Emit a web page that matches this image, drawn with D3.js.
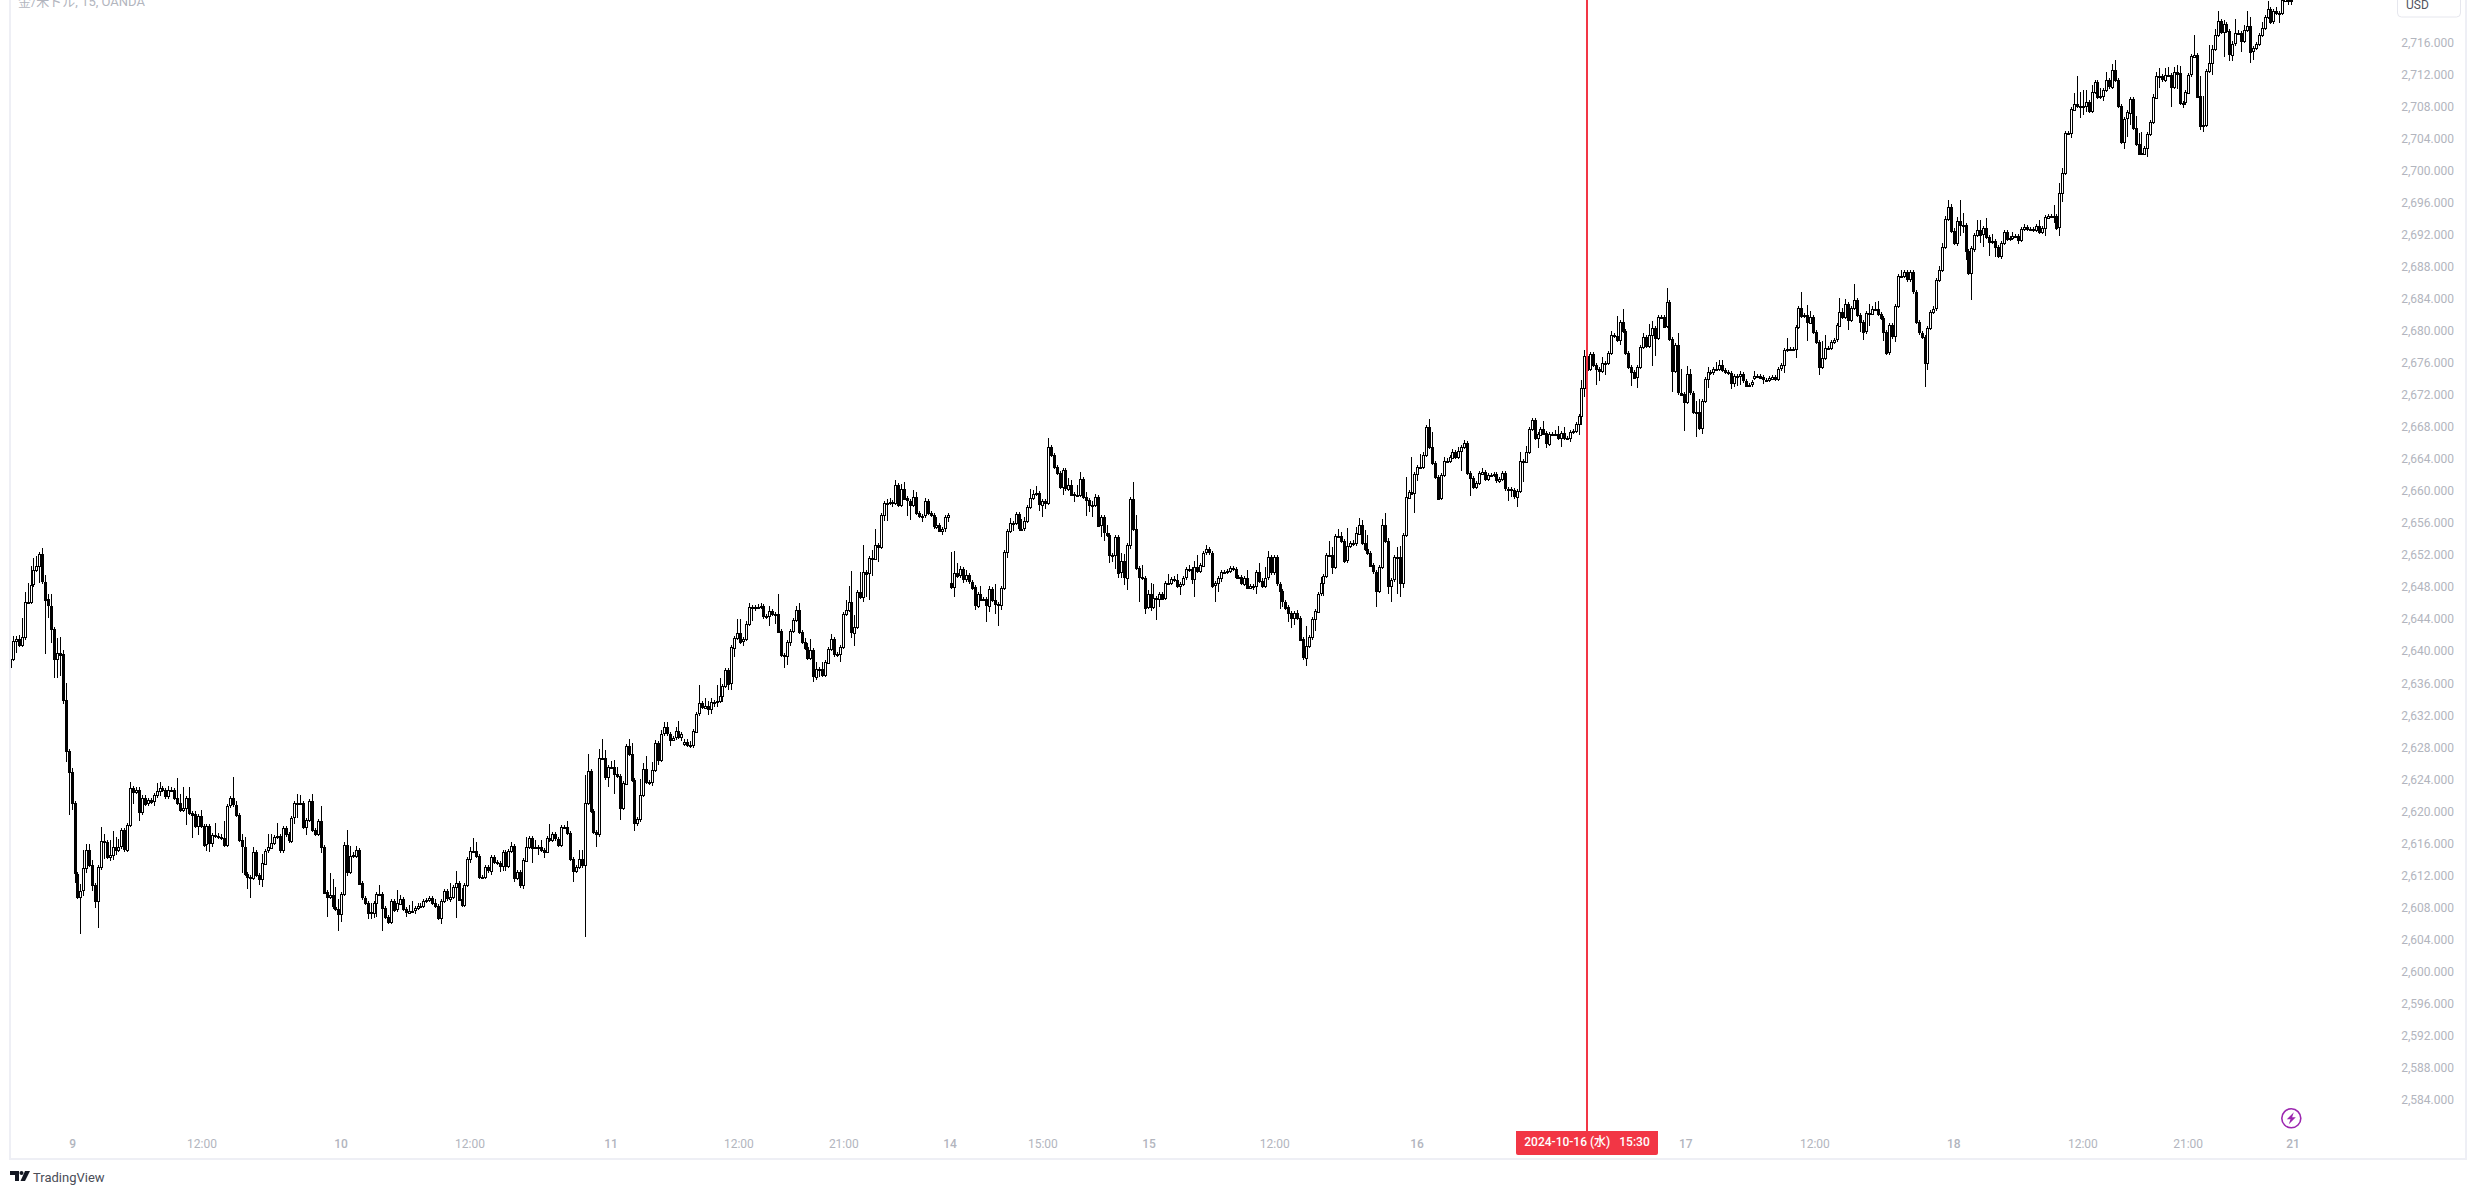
<!DOCTYPE html>
<html>
<head>
<meta charset="utf-8">
<title>XAU/USD 15m</title>
<script src="https://cdn.jsdelivr.net/npm/d3@7"></script>
<style>
html,body{margin:0;padding:0;background:#fff;overflow:hidden}
svg{display:block}
text{font-family:Roboto,"Noto Sans CJK JP",sans-serif}
</style>
</head>
<body>
<div id="chart"></div>
<script>
// Opening price of the first bar in each uninterrupted trading run.
const sessionOpens = [2638.0, 2628.5, 2648.5, 2674.2];

// 15-minute closes, Oct 8 evening to Oct 11 close.
const closesA = [
2639,2641.3,2641.5,2640.8,2641.8,2646.2,2646.2,2648.3,2650.1,2650.6,
2652.1,2648.7,2646.5,2645.7,2642.8,2639.1,2639.8,2639.6,2633.9,2627.5,
2624.9,2621,2612.2,2609.3,2610.1,2612.9,2615.2,2613.3,2610.8,2608.8,
2613,2616.3,2616.2,2614.3,2614.6,2615.6,2615.2,2615.6,2617.6,2615.2,
2618.3,2622.9,2622.4,2622.7,2619.9,2621.7,2621,2621.4,2621.2,2622,
2622.5,2622.9,2622.6,2621.8,2622.6,2622.6,2621.6,2621,2620.1,2620.4,
2621.7,2619.8,2619.6,2618.1,2619.4,2618.2,2615.8,2618.1,2616,2617,
2616.9,2616.8,2616.7,2615.8,2620.7,2621.6,2620.8,2619.5,2616.4,2615.6,
2612.2,2611.8,2611.7,2614.9,2612,2611.5,2613.5,2615.1,2615.5,2616.1,
2616.8,2616.9,2615.1,2617.9,2617.1,2616.3,2619.2,2621,2621,2621,
2618,2618.9,2621.3,2617.7,2617.2,2618.8,2615.6,2609.9,2609.3,2609.5,
2608.1,2607.8,2607.2,2609.7,2615.8,2612.4,2614.4,2614.5,2615.2,2611,
2609.2,2608.6,2607.4,2607.4,2608.6,2609.7,2609.7,2607.9,2606.8,2606.2,
2608.8,2607.7,2608.5,2609.1,2607.8,2607.4,2607.6,2607.6,2607.9,2608.2,
2608.2,2608.8,2608.9,2609.2,2608.6,2608.2,2606.7,2608.8,2610,2609.1,
2609.3,2610.6,2611.1,2609,2608.3,2610.8,2614,2615,2615,2614.4,
2611.8,2611.8,2613,2612.6,2614.3,2613.7,2613.6,2613.2,2614.9,2613.2,
2615.1,2615.7,2611.7,2612.4,2610.8,2613.9,2615.6,2616.7,2615.5,2615.6,
2615.6,2615.2,2615,2616.7,2616.4,2617.1,2616.6,2615.8,2618,2618,
2617.3,2614,2612.5,2613,2614,2613.2,2621,2625,2620,2617.4,
2617.1,2626.6,2626.6,2624.2,2625.5,2625.5,2624.6,2624.4,2620.4,2623.5,
2628.2,2627.2,2623.9,2618.5,2619,2622,2625.3,2623.7,2623.6,2625.1,
2628.5,2626.4,2629.7,2630.5,2629.7,2629,2629.2,2630,2629.3,2629.7];
const upperWicksA = [
.1,.6,.4,.5,2.4,1.2,2.3,2.3,1.5,1.3,
.1,.8,.8,.6,1.5,.1,1.9,2,.6,2.1,
.1,.5,.1,.1,.8,2.3,.7,.7,.6,.2,
.2,1.7,.9,.2,1.8,1.9,1.2,1,.2,.3,
.2,.7,.2,.3,.3,.3,.3,.2,.3,.2,
1,.7,.3,.2,.6,.4,.2,2.6,1.2,2.6,
.2,1.3,.2,.4,.2,.8,.2,.3,.2,.2,
1.5,.4,.3,2.1,.1,.3,2.7,.5,.1,.8,
1.2,.2,.1,.7,.1,.2,1.2,.2,1.7,1,
.2,1.6,.1,.1,.3,.1,.1,.3,1.2,1,
.1,.1,.1,.9,.1,.1,1.8,.1,.1,2.8,
2,2.5,1.2,.1,.4,1.9,1.3,.4,.5,.1,
.1,.1,.1,1.1,.2,.1,1.1,.1,.1,.1,
.1,.1,1.7,.4,.2,.1,.7,1.2,.1,.3,
.3,.2,.3,.1,.1,.4,.1,.1,.1,.1,
1.7,.1,1.4,.1,1.4,.1,.1,.5,1.7,1.2,
.1,.1,.3,.1,.1,.3,.1,.1,.1,.3,
.1,.5,.1,.1,.1,.3,1.2,.1,.1,.8,
.1,.8,.1,.1,1.7,.1,.1,.1,.2,.3,
.8,.1,.1,.1,1.2,1.2,3.5,2.2,.1,.1,
.1,1.2,2.4,1,.1,.8,.9,.9,.3,.1,
.2,.8,1.3,.1,.1,2,.7,1.6,.1,1,
.4,.1,.5,.6,.6,.1,.1,.5,1.3,.1];
const lowerWicksA = [
.6,.2,1.5,.3,.2,.4,.1,.1,.2,.1,
2.1,.2,6.8,1.5,1.8,2.4,2.5,2.7,.5,1.4,
5.4,.8,1.2,.3,4.6,.7,.6,.3,.8,.9,
3.4,.3,2.1,.3,.5,.7,.7,.3,.3,.3,
.2,.2,1.5,.2,1.1,.4,.3,.4,.2,.5,
.3,.6,.2,.2,.2,.2,.2,.2,.1,.1,
2.1,.2,2.9,.2,1.1,.2,.2,.8,1.1,.5,
.2,.2,.2,.3,.2,.2,.1,.1,.1,3.3,
.1,1.5,2.5,.1,.1,.7,1,.2,.2,.2,
.2,.2,.2,.3,.1,.1,.3,.8,1.9,.2,
.1,1,.1,.1,.1,.1,.8,.1,2.5,.1,
.1,.1,2.1,1,.1,.5,.1,.2,.3,.1,
.1,.1,.9,.9,.7,1.8,.1,2.8,.1,.1,
.1,.1,.1,.1,.1,.6,.1,.1,.4,.1,
.1,.1,.2,.1,.1,.1,.1,.8,.1,.1,
.4,.1,3.9,.1,.1,.3,.1,.5,.1,.1,
.1,.2,.3,.1,.5,.1,.1,.8,.7,.6,
.1,.1,.5,.1,.4,.5,.1,.1,2,.1,
1,.1,.8,.1,.1,.1,.1,.1,.1,.1,
.1,.1,1.3,.1,.1,.1,8.9,.1,.1,.1,
1.5,.1,.1,.1,1.2,.2,2.4,.1,1.5,.2,
.1,.1,.1,1,.3,.3,.1,.1,.3,.4,
.2,.6,.1,.1,.1,.8,.1,.1,.1,.5];

// Closes, run starting on the thin gap before the Oct 11 rally.
const closesB = [
2628.7,2628.3,2628.2,2630,2632.2,2633.5,2633,2633.2,2632.8,
2633.7,2633.7,2633.8,2634.4,2635.7,2637.7,2636,2640.5,2641.7,2642.3,
2641.2,2641.5,2643.4,2645.5,2645.5,2645.5,2645.5,2645.6,2644.4,2644.4,
2645,2644.6,2644.7,2642.5,2639.5,2639.4,2641.1,2642.5,2643.9,2645.2,
2642.4,2641.2,2640.5,2639.1,2640.1,2636.8,2637.8,2637.8,2637,2638.6,
2640.3,2641.5,2639.6,2639.6,2640.5,2644.6,2645.1,2646.1,2642.3,2643,
2647.4,2646.8,2649.9,2649.7,2651.6,2651.6,2653.3,2653,2657,2658.5,
2658.5,2658.6,2658.5,2660.8,2658.3,2660.3,2659.1,2658.8,2658.3,2659.3,
2657.3,2656.9,2656.9,2658.7,2657.2,2657,2655.6,2655.8,2655.1,2655.3,
2656.7,2657];
const upperWicksB = [
.3,.3,.5,.1,.1,2.3,.1,.9,.6,
.5,.1,2,2.2,.2,.2,.1,.1,.2,1.7,
1.7,.1,.4,.5,.1,.3,.4,.4,.1,.2,
.6,.2,.1,2.4,.1,.1,.1,.1,.1,.4,
.8,.1,.4,.5,1.4,.1,.9,.2,.9,.1,
.1,.7,.1,.1,.1,.1,1.3,2,3.9,1.5,
.3,2.5,3.3,.1,.1,1,2,.1,.1,.1,
.5,.5,.1,.6,.2,.6,.8,.1,.1,.8,
.6,.1,.1,.4,.1,.1,.1,1,.1,.1,
.2,.3];
const lowerWicksB = [
.4,.1,.1,.1,.1,.1,.1,.1,.8,
.6,.7,.7,.1,.8,.1,.8,.9,1.2,.1,
.1,.6,.1,.1,1.7,.5,.1,.1,.4,.4,
1.3,.1,1.2,.1,.1,1.5,1.1,.5,.1,.1,
.1,.1,.3,.1,.1,.6,.4,1,.1,.1,
.1,.1,.3,.3,.9,.1,.1,.1,.7,1.7,
.1,.1,.7,2.9,3.3,2.2,.1,1.9,.1,.7,
2.2,.1,.5,.1,.1,.1,.1,1.9,1.9,.1,
.1,.1,.8,.1,.1,.1,.3,.4,.1,.6,
.4,.6];

// Closes from the Oct 14 open to the quiet stretch on Oct 16-17.
const closesC = [
2648,2649.8,2649.4,2650.2,2649,2649.5,2648.7,2648,2645.7,2647.2,
2646.5,2646.5,2645.7,2647.8,2646.4,2645.9,2645.8,2647.9,2652.4,2655,
2656,2656,2657.1,2655.3,2655.3,2656.2,2658,2659.1,2659.6,2659.7,
2658.3,2658.8,2658.5,2665.5,2664.5,2663,2662.3,2660.5,2662.6,2660.3,
2660.8,2659.6,2659.5,2659.5,2661.5,2659.3,2658.9,2658.3,2658.3,2659.3,
2655.7,2656.7,2654.8,2654.5,2652,2652,2654.3,2649.8,2651.2,2649.2,
2653.3,2659,2655.3,2650.4,2649.3,2649.2,2645.5,2647.1,2645.5,2646.6,
2646.6,2647.2,2646.6,2648.5,2648.5,2649,2648.9,2648.2,2648.4,2649.2,
2650.2,2650.2,2649,2650.5,2650,2650.7,2652.3,2652.7,2652.3,2648.2,
2648.5,2649.1,2649.9,2649.9,2650,2650.4,2650.3,2649.3,2649.3,2648.5,
2649.2,2648,2648.2,2648.2,2649.9,2648.8,2648.2,2649.2,2651.7,2649.8,
2651.7,2648.4,2647.5,2646.2,2645.5,2644.8,2644.2,2644.8,2644.2,2641.5,
2639.2,2640.7,2641.8,2644,2645,2647.2,2648.5,2649.4,2652,2652,
2650.5,2654.4,2654.4,2653.8,2651.3,2653.1,2653.5,2653.4,2654.7,2655.8,
2653.5,2652.8,2652.3,2650.7,2649.9,2647.5,2650.5,2655.7,2653.7,2648.1,
2648.9,2651.7,2651.7,2648.5,2654.5,2659.2,2659.9,2659.7,2662.1,2663,
2663,2664.5,2668,2665.5,2663.5,2661.8,2659.1,2662,2663.7,2663.7,
2664.2,2664.9,2664.3,2665,2665.5,2666,2662.2,2661.6,2660.5,2661,
2662.2,2662.4,2661.5,2662,2662,2662.1,2661.3,2661.5,2662.2,2660.3,
2660.2,2660.1,2659.3,2660,2663.7,2663.7,2664.9,2667.8,2668.9,2666.6,
2667.1,2667.8,2667.2,2665.9,2667.1,2667.1,2667.1,2666.6,2667.2,2666.6,
2666.6,2667.4,2667.5,2668.4,2669.4,2672.9,2676.9,2675.2,2677.1,2675.7,
2675.2,2675,2676,2676,2677.3,2679.5,2679.4,2678.9,2681.1,2680,
2677.2,2675.5,2674.9,2674.2,2675.5,2678,2679.2,2678.1,2679.5,2680.4,
2679.1,2681.7,2681.8,2680.6,2683.6,2679,2675,2678.2,2672.3,2672.1,
2671.1,2674.6,2672.3,2669.9,2669.9,2667.9,2671.3,2674,2674.9,2674.8,
2675.2,2675.2,2675.7,2675.1,2674.9,2674.8,2673.5,2674.4,2674.4,2674.6,
2673.8,2673.2,2673.3,2673.6];
const upperWicksC = [
3.9,2.7,1.2,.4,.3,.6,.3,.1,.1,.1,
1,.1,.1,.4,.1,2,.1,.1,.1,.3,
.6,.1,.1,.2,1.2,.5,.1,1.1,.5,.9,
.3,.1,.1,1.1,.1,.2,.1,.1,.1,.1,
.8,.6,.1,1.3,.9,.2,.6,.1,.5,.3,
.1,.1,.1,.9,.1,.3,.2,.1,1,.9,
.1,.1,2.1,1.7,.1,1.5,.1,.5,1.4,1.8,
.1,.2,.1,.3,1.1,.1,.4,.8,.1,.1,
.1,.6,.1,.8,1.5,.1,.1,.5,.1,.1,
.1,.1,.1,.1,.2,.2,.1,.1,.2,.1,
.1,.9,.2,.1,.1,1.1,.4,1.3,.8,.1,
.1,.1,.1,.1,.1,.1,.1,.1,.3,.1,
.1,2.4,.1,.1,.2,.1,.8,.3,.1,1.8,
1,.1,.9,.5,.1,2.3,.2,.4,.8,.8,
.6,1.6,1.7,.1,.1,.1,.2,.8,1.6,.4,
.1,.1,1.3,1.4,.1,2.6,.1,4.4,.1,.1,
1.6,.4,.1,1,1.9,.1,.1,.1,.5,.4,
.1,.4,.1,.5,.2,.4,.1,.2,.1,.1,
.1,.5,.1,.1,.2,.1,.1,.1,.2,.1,
.1,.1,.1,.1,1.2,.1,.7,.1,.1,.1,
.1,.1,.9,.1,.1,.3,.5,1,.1,.8,
.1,.2,.1,.1,.1,1,.7,.1,.3,.1,
.1,.1,.7,.1,.1,.5,.1,2.5,.1,1.6,
.1,.1,.1,.1,.1,.1,.5,.1,1.4,.9,
.1,.2,.1,.1,1.7,.1,.1,.1,1.5,3,
.1,1,.7,.1,1.3,1.6,.1,.1,.6,.1,
.1,.9,.7,.7,.1,.1,.1,.1,.1,.4,
.1,.1,.1,.1];
const lowerWicksC = [
.1,1.2,.1,.1,.5,.3,.1,.3,.6,.1,
.1,.1,2.1,.8,.1,1.3,2.6,.6,.1,.8,
.1,1,.1,.1,.1,.1,.1,.1,.1,.1,
.8,1.5,.8,.1,.1,.1,.1,.1,1,.1,
.1,.1,.9,.1,.1,.1,2,.9,1.5,.1,
.1,1.4,1.1,.1,1,.9,1.7,.6,.7,.9,
1.6,.6,.1,.1,3.1,.1,.8,.2,.5,.1,
2.7,1.1,.1,.1,.1,.1,.1,.1,1.2,.1,
.1,.1,.6,2.2,.1,.1,.1,.1,.1,.1,
2.1,1.1,.5,.1,.1,.1,.1,.1,.3,.1,
.3,.1,.2,.5,1,.1,.3,.1,.1,.1,
.1,.1,2.2,.7,.3,1.2,1.3,.9,.1,.1,
.1,1.1,.1,.4,1.5,.1,.1,1.6,.1,.1,
.8,.1,.1,.1,.3,.1,.1,.1,.1,.1,
.1,.1,.1,.1,.1,2,.1,.1,.1,.9,
2,.1,4.5,1.7,.6,.1,.1,.1,2.5,.9,
.1,.1,.1,.1,.1,.1,.1,.1,.1,.1,
.1,.1,.1,.1,2.5,.1,.1,2.2,.1,.2,
.1,.1,.1,.1,.1,.1,.1,.1,.1,.1,
1.4,.8,.1,1.3,.1,2.6,.1,.1,.1,.1,
1.2,.1,.1,.5,.1,.1,.1,.1,1.1,.1,
.1,.5,.1,.1,1.4,1.1,1.1,.1,.1,.1,
2,1.2,.1,1.5,.1,.1,.1,.1,.7,.1,
.1,.1,1.8,.1,1.3,.1,.1,.1,.1,3.9,
2.2,.1,.1,.1,.1,.1,2.6,.1,.1,.1,
3.6,.1,.1,.1,3.2,.1,.8,.1,1.1,.1,
.1,.1,.1,.1,.1,.1,.8,.5,1.3,1.2,
.1,.2,.1,.1];

// Closes through the Oct 17-18 rally to the end of the chart.
const closesD = [
2674.4,2674.4,2674.2,2673.9,2673.9,2674.1,2674.3,2674,2675.3,2675.7,
2677.6,2677.7,2677.7,2677.7,2680.5,2682.9,2681.9,2682,2681.1,2681.8,
2679.9,2678.6,2675.5,2676.6,2677.9,2677.9,2678.6,2678.9,2680.7,2682.4,
2681.8,2683.4,2681.4,2682.9,2683.9,2682,2681.1,2679.9,2682.2,2682.2,
2682.8,2682.7,2682.1,2681.6,2679.9,2677.3,2680.7,2679.3,2683.1,2686.8,
2686.8,2687.3,2686.4,2687.3,2684.9,2681.1,2679.8,2679.3,2676,2680.4,
2682.4,2682.8,2686.3,2687.6,2690.5,2694,2695.5,2692.5,2691,2693.7,
2693.2,2693.2,2690,2687.2,2690.3,2692,2692.6,2692,2692.8,2691.7,
2691.1,2691.2,2690.5,2689.4,2691,2692.4,2691.5,2691.6,2691.8,2691.8,
2691.3,2692.7,2693,2692.7,2692.7,2692.6,2693.1,2692.3,2692.8,2694.2,
2694.4,2694.4,2694.4,2692.9,2697.2,2699.7,2704.7,2704.7,2707.7,2708.4,
2708.1,2708.1,2708.1,2708.6,2707.5,2709.9,2711.1,2709.2,2709.3,2710.1,
2711.3,2710.5,2712.6,2711.3,2708.1,2703.6,2706.5,2707.3,2709,2705.4,
2703.4,2702.2,2702.2,2702.9,2704.6,2706.1,2709.2,2711.9,2711.8,2711.4,
2712,2712,2710.5,2712.4,2712.2,2708.5,2708.5,2709.8,2712,2714.3,
2714.5,2709.3,2705.6,2705.7,2712.5,2713.5,2715.2,2716.9,2718.7,2717.3,
2718.3,2717.4,2714.5,2715.9,2717.2,2717.2,2716.2,2717.6,2718.1,2714.9,
2715.3,2715.8,2716.9,2717.8,2719.2,2720.2,2718.6,2719.9,2719.7,2719.7,
2721.3,2721.5,2721.2,2721.3];
const upperWicksD = [
.6,.1,.1,.1,.1,.1,.1,.1,.1,.1,
.1,1.4,.1,.1,.1,.1,1.9,.1,1.2,.7,
.1,.1,.1,2.2,1.6,.1,.1,.1,.3,1.7,
.5,.6,.1,.1,1.9,.1,.1,.1,.1,1.2,
.1,.8,1,.1,.1,.1,.1,.1,.1,.1,
.8,.1,.1,.1,.1,.1,.1,.1,.1,.1,
.1,.1,.1,.5,.5,.3,.8,.3,.3,.5,
2.6,1.5,.1,.1,.1,.1,1.2,1.2,.1,1.3,
.3,.9,.1,.1,.1,.1,.1,.1,.5,.1,
.1,.1,.4,.1,.1,.1,.2,.8,.1,.1,
.1,.1,1.3,.1,1.3,.7,.3,.1,.1,1.3,
3.4,1.7,2,1.5,.1,.8,.1,.1,1,.1,
1,.2,.8,1.2,.1,.1,.1,.1,.1,.1,
1.5,1.3,2.7,.1,.1,.1,.4,.5,1,.1,
.9,1,.1,.6,.8,.9,.1,.1,.2,.1,
2.5,.1,2.5,3.7,.1,2.2,.5,.8,1.3,.3,
.5,.1,.1,.1,1.7,.4,.1,.6,1.9,1.1,
.1,.1,.1,.8,.1,1,.2,.3,.5,.1,
.1,.1,.1,.1];
const lowerWicksD = [
.3,.1,.1,.5,.1,.1,.1,.1,.1,.1,
.9,.1,.1,.1,1.1,.1,.1,.1,2.3,.1,
.1,.1,1,.1,.1,.1,.1,.1,.1,.1,
.1,.1,1.3,.1,.1,.1,1.2,1,.1,1.6,
.1,.1,.1,.1,1.2,.1,.1,.2,.7,.1,
.1,.1,.1,.1,.1,.1,.1,.1,3,.9,
.1,.1,.1,.1,.1,.1,.1,.1,.1,.4,
1.4,1,1.2,.1,3.3,.5,.1,1,1.5,.1,
1.7,.1,1.3,.1,.4,.1,.1,.1,.1,.1,
.5,.1,.1,.1,.1,.1,.1,.1,.1,.9,
.1,.1,.9,.1,1,1.1,.1,.1,.6,.1,
.1,1.5,1.1,.8,.1,.1,.1,.1,.1,.6,
.1,.1,.1,.1,.1,.1,.9,2.3,1.6,.1,
.1,.1,.1,.1,1.2,.1,.1,.1,1.5,.1,
.1,.1,2.5,.1,2,.1,.6,.1,.1,.1,
.1,.1,.5,.7,.1,.1,1.5,.1,.1,.1,
3.1,.1,.8,.8,.1,.1,1.3,.1,.1,1.4,
1,.1,.1,.1,.1,.1,.1,.1,.1,1.3,
.1,.1,.5,.5];

// Axis labels: bar position of each time label, and its text.
const timeTickBars = [21.4,65.5,112.9,156.9,205,248.6,284.4,320.6,352.3,388.5,431.4,479.9,571.6,615.6,663,707,742.9,778.7];
const timeTickLabels = ["9","12:00","10","12:00","11","12:00","21:00","14","15:00","15","12:00","16","17","12:00","18","12:00","21:00","21"];
const priceTicks = [2584,2588,2592,2596,2600,2604,2608,2612,2616,2620,2624,2628,2632,2636,2640,2644,2648,2652,2656,2660,2664,2668,2672,2676,2680,2684,2688,2692,2696,2700,2704,2708,2712,2716];
const crosshairBar = 537.9;
const crosshairLabel = "2024-10-16 (水)   15:30";
const symbolTitle = "金/米ドル, 15, OANDA";

const sessions = [
  [closesA, upperWicksA, lowerWicksA],
  [closesB, upperWicksB, lowerWicksB],
  [closesC, upperWicksC, lowerWicksC],
  [closesD, upperWicksD, lowerWicksD]
];

// Shortest wick that stays visible at this price scale.
const minWick = 0.25;

// Flatten the runs into OHLC bars; each open continues the previous close within a run.
const bars = [];
sessions.forEach(([closes, uw, lw], s) => {
  if (closes.length !== uw.length || closes.length !== lw.length)
    throw new Error("session " + s + " lengths " + closes.length + "/" + uw.length + "/" + lw.length);
  closes.forEach((c, i) => {
    const o = i === 0 ? sessionOpens[s] : closes[i - 1];
    bars.push({
      i: bars.length, o, c,
      h: Math.max(o, c) + Math.max(uw[i], minWick),
      l: Math.min(o, c) - Math.max(lw[i], minWick)
    });
  });
});

const W = 2475, H = 1194;
const frame = { left: 11, right: 2465, bottom: 1158 };
const grey = "#b2b5be", red = "#f23645", borderColor = "#eeeff5";

const x = d3.scaleLinear().domain([0, bars.length - 1]).range([10, 2291]);
const y = d3.scaleLinear().domain([2584, 2716]).range([1099.5, 42.7]);

const svg = d3.select("#chart").append("svg").attr("width", W).attr("height", H);

svg.append("defs").append("clipPath").attr("id", "pane")
  .append("rect").attr("x", frame.left).attr("y", 0)
  .attr("width", frame.right - frame.left).attr("height", frame.bottom);

// Candles
const plot = svg.append("g").attr("clip-path", "url(#pane)");
const candle = plot.selectAll("g.bar").data(bars).join("g").attr("class", "bar");
candle.append("line")
  .attr("x1", d => Math.round(x(d.i)) + 0.5).attr("x2", d => Math.round(x(d.i)) + 0.5)
  .attr("y1", d => y(d.h)).attr("y2", d => y(d.l))
  .attr("stroke", "#000").attr("stroke-width", 1).attr("shape-rendering", "crispEdges");
candle.append("rect")
  .attr("x", d => Math.round(x(d.i)) - 0.5).attr("width", 2)
  .attr("y", d => Math.round(y(Math.max(d.o, d.c))) + 0.5)
  .attr("height", d => Math.max(0.5, Math.round(Math.abs(y(d.o) - y(d.c)))))
  .attr("fill", d => d.c >= d.o ? "#fff" : "#000")
  .attr("stroke", "#000").attr("stroke-width", 1).attr("shape-rendering", "crispEdges");

// Frame
svg.append("rect").attr("x", 9).attr("y", 0).attr("width", 2).attr("height", frame.bottom + 2).attr("fill", borderColor);
svg.append("rect").attr("x", 9).attr("y", frame.bottom).attr("width", frame.right - 7).attr("height", 2).attr("fill", borderColor);
svg.append("rect").attr("x", frame.right).attr("y", 0).attr("width", 2).attr("height", frame.bottom + 2).attr("fill", borderColor);

// Symbol title, cut by the top edge of the page
svg.append("text").attr("x", 18).attr("y", 6).attr("font-size", 13).attr("fill", grey).text(symbolTitle);

// Price axis
const yAxis = svg.append("g");
yAxis.selectAll("text").data(priceTicks).join("text")
  .attr("x", 2454).attr("y", d => y(d)).attr("dy", "0.36em")
  .attr("text-anchor", "end").attr("font-size", 12).attr("fill", grey)
  .text(d => d3.format(",.3f")(d));

// Currency button
svg.append("rect").attr("x", 2397.5).attr("y", -8).attr("width", 63).attr("height", 25).attr("rx", 4)
  .attr("fill", "#fff").attr("stroke", "#e6e7ee");
svg.append("text").attr("x", 2406).attr("y", 9).attr("font-size", 12).attr("fill", "#50535e").text("USD");

// Time axis
const xAxis = svg.append("g");
xAxis.selectAll("text").data(timeTickBars).join("text")
  .attr("x", d => x(d)).attr("y", 1144).attr("dy", "0.36em")
  .attr("text-anchor", "middle").attr("font-size", 12).attr("fill", grey)
  .attr("font-weight", (d, i) => timeTickLabels[i].includes(":") ? 400 : 500)
  .text((d, i) => timeTickLabels[i]);

// Crosshair and its time tag
const cx = Math.round(x(crosshairBar));
svg.append("rect").attr("x", cx - 1).attr("y", 0).attr("width", 2).attr("height", 1131).attr("fill", red);
svg.append("path").attr("fill", red)
  .attr("d", `M${cx - 71},1131H${cx + 71}V1153a2,2 0 0 1 -2,2H${cx - 69}a2,2 0 0 1 -2,-2Z`);
svg.append("text").attr("x", cx).attr("y", 1145).attr("dy", "0.1em").attr("text-anchor", "middle")
  .attr("font-size", 12).attr("font-weight", 500).attr("fill", "#fff").attr("xml:space", "preserve")
  .style("white-space", "pre").text(crosshairLabel);

// Lightning badge beside the last bar
const badge = svg.append("g").attr("transform", "translate(2291.3,1118.3)");
badge.append("circle").attr("r", 9.5).attr("fill", "#fff").attr("stroke", "#9c27b0").attr("stroke-width", 1.6);
badge.append("path").attr("fill", "#9c27b0").attr("d", "M2.5,-6L-4.5,1H-0.8L-2.5,6L4.5,-1H0.8Z");

// Brand mark and wordmark
const brand = svg.append("g").attr("transform", "translate(10,1171)");
brand.append("path").attr("fill", "#131722").attr("d", "M0,0H9V10H5V4H0Z");
brand.append("circle").attr("cx", 11.5).attr("cy", 2).attr("r", 2).attr("fill", "#131722");
brand.append("path").attr("fill", "#131722").attr("d", "M15,0H20L15,10H10.5Z");
svg.append("text").attr("x", 33).attr("y", 1182).attr("font-size", 13).attr("fill", "#4a4d57").text("TradingView");
</script>
</body>
</html>
